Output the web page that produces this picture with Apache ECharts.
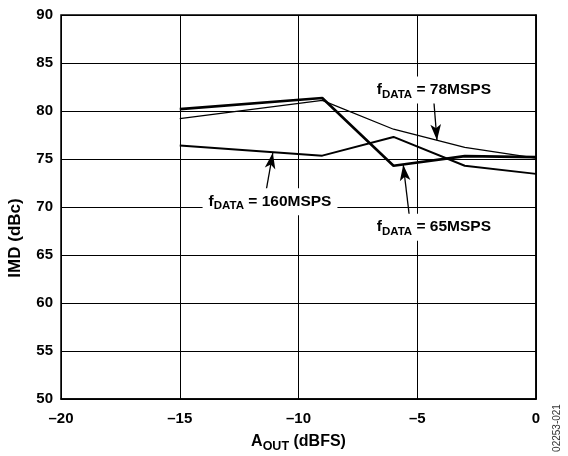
<!DOCTYPE html>
<html><head><meta charset="utf-8">
<script src="https://cdn.jsdelivr.net/npm/echarts@6/dist/echarts.min.js"></script>
<style>html,body{margin:0;padding:0;background:#fff}#c{width:568px;height:456px}</style>
</head><body><div id="c"></div>
<script>
const xValues = [-15, -9, -6, -3, 0];
const imd65 = [80.2, 81.35, 74.3, 75.3, 75.2];
const imd78 = [79.2, 81.1, 78.1, 76.2, 75.1];
const imd160 = [76.4, 75.35, 77.3, 74.3, 73.45];
const xTicks = [-20, -15, -10, -5, 0];
const yTicks = [50, 55, 60, 65, 70, 75, 80, 85, 90];
const labelTexts = ['78MSPS', '160MSPS', '65MSPS'];

const FONT = '"Liberation Sans", Arial, sans-serif';
const pairs = ys => xValues.map((x, i) => [x, ys[i]]);
const richLabel = {
  f: {fontSize: 15.5, fontWeight: 'bold', fontFamily: FONT, color: '#000'},
  s: {fontSize: 11.5, fontWeight: 'bold', fontFamily: FONT, color: '#000', padding: [9, 0, 0, 0]},
  t: {fontSize: 15.5, fontWeight: 'bold', fontFamily: FONT, color: '#000'}
};
function annot(text, x, y) {
  return {
    coord: [x, y], symbol: 'rect', symbolSize: 1, itemStyle: {color: 'rgba(0,0,0,0)'},
    label: {show: true, position: 'inside', formatter: '{f|f}{s|DATA}{t| = ' + text + '}',
      backgroundColor: '#fff', padding: [3, 6, 3, 6], rich: richLabel}
  };
}
function arrow(x1, y1, x2, y2) {
  return [{coord: [x1, y1], symbol: 'none'}, {coord: [x2, y2], symbol: 'arrow'}];
}
const mlBase = {silent: true, symbolSize: [8, 16], animation: false,
  lineStyle: {color: '#000', width: 1.3, type: 'solid'}, label: {show: false}};
const mpBase = {silent: true, animation: false};

const chart = echarts.init(document.getElementById('c'));
chart.setOption({
  animation: false,
  backgroundColor: '#fff',
  grid: {left: 61, right: 32, top: 15, bottom: 57, show: true, borderColor: '#000', borderWidth: 1.5,
    containLabel: false, outerBoundsMode: 'none'},
  xAxis: {
    type: 'value', min: xTicks[0], max: xTicks[xTicks.length - 1], interval: 5,
    axisLine: {show: true, lineStyle: {color: '#000', width: 1.5}},
    axisTick: {show: false},
    splitLine: {show: true, lineStyle: {color: '#000', width: 1}},
    axisLabel: {color: '#000', fontSize: 15, fontWeight: 'bold', fontFamily: FONT, margin: 12,
      formatter: v => String(v).replace('-', '\u2013')},
    name: '{a|A}{s|OUT}{a| (dBFS)}', nameLocation: 'middle', nameGap: 32,
    nameTextStyle: {rich: {
      a: {fontSize: 16, fontWeight: 'bold', fontFamily: FONT, color: '#000'},
      s: {fontSize: 12.5, fontWeight: 'bold', fontFamily: FONT, color: '#000', padding: [9, 0, 0, 0]}
    }}
  },
  yAxis: {
    type: 'value', min: yTicks[0], max: yTicks[yTicks.length - 1], interval: 5,
    axisLine: {show: true, lineStyle: {color: '#000', width: 1.5}},
    axisTick: {show: false},
    splitLine: {show: true, lineStyle: {color: '#000', width: 1}},
    axisLabel: {color: '#000', fontSize: 15, fontWeight: 'bold', fontFamily: FONT, margin: 8},
    name: 'IMD (dBc)', nameLocation: 'middle', nameGap: 37,
    nameTextStyle: {color: '#000', fontSize: 17, fontWeight: 'bold', fontFamily: FONT, padding: [0, 62, 0, 0]}
  },
  series: [
    {type: 'line', name: '65MSPS', data: pairs(imd65), showSymbol: false, symbol: 'none',
      lineStyle: {color: '#000', width: 2.6}, z: 3,
      markLine: Object.assign({data: [arrow(-5.34, 69.2, -5.59, 74.4)]}, mlBase),
      markPoint: Object.assign({data: [annot(labelTexts[2], -4.3, 67.9)]}, mpBase)},
    {type: 'line', name: '78MSPS', data: pairs(imd78), showSymbol: false, symbol: 'none',
      lineStyle: {color: '#000', width: 1.3}, z: 3,
      markLine: Object.assign({data: [arrow(-4.33, 81.9, -4.17, 76.95)]}, mlBase),
      markPoint: Object.assign({data: [annot(labelTexts[0], -4.3, 82.2)]}, mpBase)},
    {type: 'line', name: '160MSPS', data: pairs(imd160), showSymbol: false, symbol: 'none',
      lineStyle: {color: '#000', width: 2}, z: 3,
      markLine: Object.assign({data: [arrow(-11.37, 71.6, -11.08, 75.65)]}, mlBase),
      markPoint: Object.assign({data: [annot(labelTexts[1], -11.2, 70.55)]}, mpBase)}
  ],
  graphic: [{type: 'text', x: 557, y: 428, rotation: Math.PI / 2,
    style: {text: '02253-021', fontSize: 10, fontFamily: FONT, fill: '#333', align: 'center', verticalAlign: 'middle'}}]
});
</script></body></html>
